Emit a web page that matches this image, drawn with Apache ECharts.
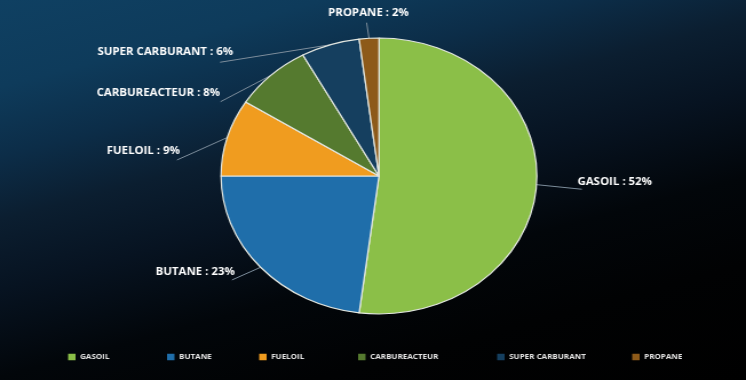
<!DOCTYPE html>
<html><head><meta charset="utf-8">
<script src="https://cdn.jsdelivr.net/npm/echarts@6/dist/echarts.min.js"></script>
<style>
html,body{margin:0;padding:0;width:746px;height:380px;overflow:hidden;background:#000;}
#bg{position:absolute;left:0;top:0;width:746px;height:380px;
background:linear-gradient(165deg, #0f4062 0%, #0e3b5b 15%, #0c2d48 27%, #0b1e30 38%, #071321 50%, #02060a 65%, #010203 80%, #000 100%);}
#chart{position:absolute;left:0;top:0;width:652px;height:380px;transform:scaleX(1.14417);transform-origin:0 0;}
</style></head><body><div id="bg"></div><div id="chart"></div>
<script>
// data
const categories = ['GASOIL', 'BUTANE', 'FUELOIL', 'CARBUREACTEUR', 'SUPER CARBURANT', 'PROPANE'];
const shares = [52, 23, 9, 8, 6, 2];
const colors = ['#8bbf48', '#1f6eaa', '#f09c1f', '#557a2f', '#153f5f', '#8d5a19'];

// layout/styling (not data)
const legendLeft = [59.5, 146, 226.5, 313, 434.5, 552.5];
const labelStyle = [
  {dx: 39.6, dy: 4.6, tx: -3.8, ty: -7.6, align: 'left'},
  {dx: -24.9, dy: 12.7, tx: 2.4, ty: -8.3, align: 'right'},
  {dx: -44, dy: 22.5, tx: 2.6, ty: -9, align: 'right'},
  {dx: -44, dy: 26.3, tx: -0.4, ty: -8.7, align: 'right'},
  {dx: -96.3, dy: 17.5, tx: 11.4, ty: -10.3, align: 'right'},
  {dx: -2.1, dy: -15.6, tx: 1.6, ty: -10, align: 'center'}
];

const chart = echarts.init(document.getElementById('chart'), null, {renderer: 'canvas'});
const legends = categories.map((name, i) => ({
  data: [name], left: legendLeft[i], top: 353.5, padding: 0, icon: 'rect', itemWidth: 6.5, itemHeight: 6.5, itemGap: 4,
  itemStyle: {borderWidth: 0},
  textStyle: {color: '#e6e6e6', fontSize: 7, fontWeight: 'bold', fontFamily: 'Open Sans', padding: [0, 0, 0, -1]},
  selectedMode: false
}));
chart.setOption({
  animation: false,
  backgroundColor: 'transparent',
  color: colors,
  legend: legends,
  series: [{
    type: 'pie',
    center: [331.2, 176],
    radius: 138,
    startAngle: 90,
    clockwise: true,
    avoidLabelOverlap: false,
    itemStyle: {borderColor: '#e4e8e2', borderWidth: 1.2},
    label: {show: true, formatter: '{b} : {c}%', color: '#ffffff', fontSize: 10, fontWeight: 'bold', fontFamily: 'Open Sans'},
    labelLine: {show: true, length: 10, length2: 10, lineStyle: {color: '#7e8e9c', width: 1}},
    labelLayout: function (p) {
      const pts = p.labelLinePoints;
      if (!pts) return {};
      const s = labelStyle[p.dataIndex];
      const st = pts[0];
      const e = [st[0] + s.dx, st[1] + s.dy];
      return {x: e[0] + s.tx, y: e[1] + s.ty, align: s.align, verticalAlign: 'middle', labelLinePoints: [st, e]};
    },
    data: categories.map((name, i) => ({name: name, value: shares[i]}))
  }]
});
</script></body></html>
